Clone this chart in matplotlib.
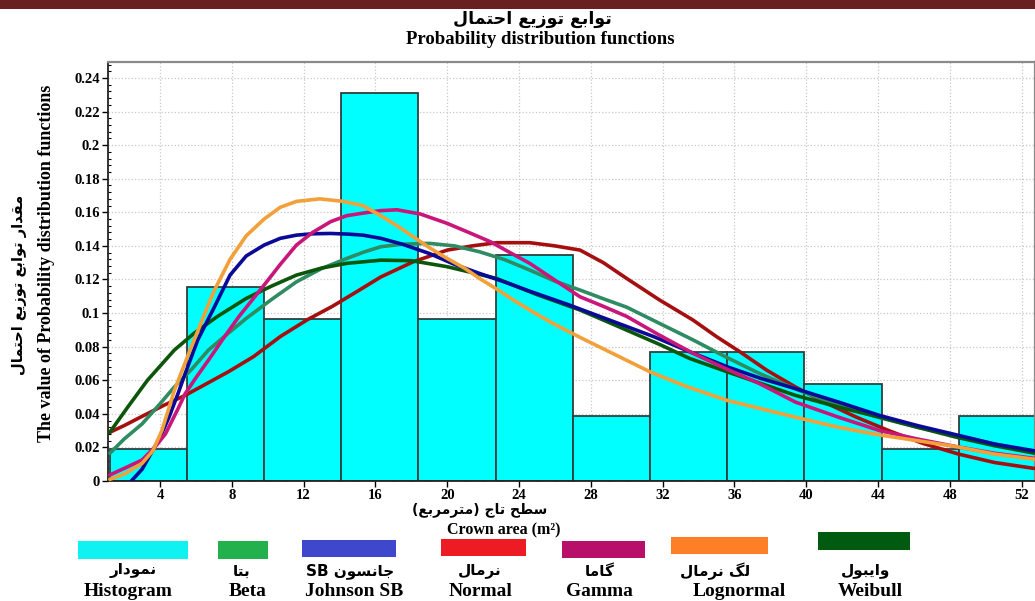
import numpy as np
import matplotlib
matplotlib.use('Agg')
import matplotlib.pyplot as plt
from matplotlib.patches import Rectangle
from matplotlib.ticker import MultipleLocator, FuncFormatter

# histogram (relative frequency per crown-area class)
bin_edges = [1.2, 5.5, 9.8, 14.1, 18.4, 22.7, 27.0, 31.3, 35.6, 39.9, 44.2, 48.5, 52.8]
hist_vals = [0.0192, 0.1154, 0.0962, 0.2308, 0.0962, 0.1346, 0.0385, 0.0769, 0.0769, 0.0577, 0.0192, 0.0385]

# fitted curves
beta_x = [1.2, 2.0, 3.0, 4.0, 4.8, 5.8, 6.7, 7.8, 8.8, 10.2, 11.6, 13.0, 14.4, 15.4, 16.3, 17.5, 19.0, 20.4,
          21.8, 23.2, 24.6, 26.0, 27.4, 28.7, 30.0, 31.8, 33.7, 35.5, 37.4, 39.6, 41.8, 44.0, 46.2, 48.4, 50.5, 52.7]
beta_y = [0.0165, 0.025, 0.034, 0.046, 0.056, 0.067, 0.078, 0.088, 0.0968, 0.108, 0.1186, 0.1265, 0.1325, 0.1365,
          0.1395, 0.141, 0.1415, 0.140, 0.1365, 0.1318, 0.1256, 0.119, 0.1137, 0.1085, 0.1035, 0.094, 0.084, 0.074,
          0.064, 0.054, 0.045, 0.038, 0.032, 0.027, 0.022, 0.017]

jsb_x = [2.4, 3.0, 3.5, 4.0, 4.5, 5.0, 5.4, 6.1, 7.0, 7.9, 8.8, 9.8, 10.7, 11.6, 12.5, 13.5, 14.5, 15.3, 16.3,
         17.5, 19.0, 20.4, 21.8, 23.2, 24.6, 26.8, 29.0, 31.5, 33.5, 35.6, 37.5, 39.4, 41.8, 44.1, 46.2, 48.4, 50.5, 52.7]
jsb_y = [0.0, 0.007, 0.0165, 0.026, 0.038, 0.052, 0.064, 0.084, 0.103, 0.1226, 0.134, 0.1405, 0.1445, 0.1464,
         0.1472, 0.1474, 0.147, 0.1464, 0.1445, 0.141, 0.1355, 0.129, 0.1236, 0.1185, 0.113, 0.1048, 0.096, 0.086,
         0.077, 0.068, 0.061, 0.055, 0.047, 0.039, 0.033, 0.0274, 0.022, 0.018]

normal_x = [1.2, 2.0, 3.0, 4.2, 5.4, 6.6, 7.8, 9.2, 10.7, 12.2, 13.6, 15.0, 16.3, 18.1, 20.0, 21.4, 22.75, 24.6,
            26.0, 27.4, 28.7, 30.0, 31.8, 33.7, 35.0, 36.3, 37.8, 39.4, 41.0, 42.8, 44.6, 46.5, 48.5, 50.5, 52.7]
normal_y = [0.029, 0.033, 0.0385, 0.045, 0.051, 0.058, 0.065, 0.074, 0.086, 0.096, 0.104, 0.113, 0.1215, 0.1305,
            0.1375, 0.140, 0.1419, 0.1419, 0.140, 0.1375, 0.130, 0.1206, 0.108, 0.0958, 0.086, 0.077, 0.066, 0.056,
            0.047, 0.038, 0.030, 0.0224, 0.016, 0.011, 0.0075]

gamma_x = [1.2, 2.0, 3.0, 3.7, 4.3, 5.0, 5.4, 6.0, 6.7, 7.6, 8.4, 9.0, 9.8, 10.7, 11.6, 12.5, 13.5, 14.4, 15.3,
           16.3, 17.2, 18.5, 20.0, 21.2, 22.4, 23.5, 24.6, 26.0, 27.4, 28.7, 30.0, 31.8, 33.7, 35.5, 37.4, 39.4,
           41.8, 44.1, 46.2, 48.4, 50.5, 52.7]
gamma_y = [0.0036, 0.0075, 0.0125, 0.020, 0.028, 0.043, 0.052, 0.0615, 0.072, 0.086, 0.098, 0.106, 0.1167, 0.129,
           0.1405, 0.148, 0.1544, 0.158, 0.1595, 0.161, 0.1615, 0.159, 0.1534, 0.148, 0.1425, 0.136, 0.1296, 0.1196,
           0.1097, 0.104, 0.098, 0.087, 0.076, 0.067, 0.058, 0.047, 0.038, 0.030, 0.025, 0.0204, 0.0165, 0.0135]

lognorm_x = [1.2, 2.0, 3.0, 3.6, 4.1, 4.8, 5.6, 6.5, 7.0, 7.9, 8.8, 9.8, 10.7, 11.6, 12.9, 14.2, 15.3, 16.3, 17.2,
             18.1, 19.0, 20.0, 21.0, 21.8, 22.8, 23.7, 24.8, 25.9, 27.5, 29.4, 31.3, 33.4, 35.6, 37.5, 39.4, 41.8,
             44.1, 46.2, 48.4, 50.5, 52.7]
lognorm_y = [0.001, 0.004, 0.0105, 0.018, 0.030, 0.054, 0.076, 0.100, 0.113, 0.132, 0.146, 0.156, 0.163, 0.1665,
             0.168, 0.1665, 0.164, 0.158, 0.152, 0.1455, 0.139, 0.1325, 0.1265, 0.1206, 0.114, 0.1077, 0.1005,
             0.0938, 0.085, 0.075, 0.065, 0.056, 0.048, 0.043, 0.038, 0.032, 0.0274, 0.024, 0.0204, 0.016, 0.013]

weibull_x = [1.2, 2.2, 3.3, 4.8, 5.9, 7.2, 8.8, 10.2, 11.6, 13.0, 14.4, 16.3, 18.0, 20.0, 22.75, 25.0, 27.4, 29.1,
             31.9, 33.5, 35.6, 37.5, 39.4, 41.8, 44.1, 46.2, 48.4, 50.5, 52.7]
weibull_y = [0.029, 0.044, 0.060, 0.078, 0.088, 0.098, 0.1087, 0.116, 0.1226, 0.1268, 0.1296, 0.1315, 0.1312,
             0.1276, 0.1206, 0.111, 0.1018, 0.094, 0.081, 0.073, 0.065, 0.058, 0.051, 0.044, 0.038, 0.032, 0.026,
             0.021, 0.0166]

x_ticks = [4, 8, 12, 16, 20, 24, 28, 32, 36, 40, 44, 48, 52]
y_ticks = [0, 0.02, 0.04, 0.06, 0.08, 0.1, 0.12, 0.14, 0.16, 0.18, 0.2, 0.22, 0.24]

legend_fa = ['نمودار', 'بتا', 'جانسون SB', 'نرمال', 'گاما', 'لگ نرمال', 'وایبول']
legend_en = ['Histogram', 'Beta', 'Johnson SB', 'Normal', 'Gamma', 'Lognormal', 'Weibull']

# colours
c_hist = '#00FFFF'
c_beta = '#2E8B62'
c_jsb = '#0A0A96'
c_normal = '#A50F0F'
c_gamma = '#C8167A'
c_lognorm = '#F2A03A'
c_weibull = '#0B560B'
legend_colours = ['#10F2F2', '#22B14C', '#3F48CC', '#ED1C24', '#B8106A', '#FF7F27', '#005A10']

# --- very small persian shaper (matplotlib has no bidi / arabic joining) ---
FORMS = {
    'ا': ('\uFE8D', '\uFE8E', None, None),
    'ب': ('\uFE8F', '\uFE90', '\uFE91', '\uFE92'),
    'ت': ('\uFE95', '\uFE96', '\uFE97', '\uFE98'),
    'ج': ('\uFE9D', '\uFE9E', '\uFE9F', '\uFEA0'),
    'ح': ('\uFEA1', '\uFEA2', '\uFEA3', '\uFEA4'),
    'د': ('\uFEA9', '\uFEAA', None, None),
    'ر': ('\uFEAD', '\uFEAE', None, None),
    'ز': ('\uFEAF', '\uFEB0', None, None),
    'س': ('\uFEB1', '\uFEB2', '\uFEB3', '\uFEB4'),
    'ط': ('\uFEC1', '\uFEC2', '\uFEC3', '\uFEC4'),
    'ع': ('\uFEC9', '\uFECA', '\uFECB', '\uFECC'),
    'ق': ('\uFED5', '\uFED6', '\uFED7', '\uFED8'),
    'ل': ('\uFEDD', '\uFEDE', '\uFEDF', '\uFEE0'),
    'م': ('\uFEE1', '\uFEE2', '\uFEE3', '\uFEE4'),
    'ن': ('\uFEE5', '\uFEE6', '\uFEE7', '\uFEE8'),
    'و': ('\uFEED', '\uFEEE', None, None),
    'ی': ('\uFBFC', '\uFBFD', '\uFEF3', '\uFEF4'),
    'گ': ('\uFB92', '\uFB93', '\uFB94', '\uFB95'),
}
DUAL = set('بتجحسطعقلمنیگ')


def shape_word(w):
    out = []
    for i, ch in enumerate(w):
        if ch not in FORMS:
            out.append(ch)
            continue
        prev_join = i > 0 and w[i - 1] in DUAL
        next_join = ch in DUAL and i < len(w) - 1 and w[i + 1] in FORMS
        iso, fin, ini, med = FORMS[ch]
        if prev_join and next_join:
            out.append(med)
        elif prev_join:
            out.append(fin)
        elif next_join:
            out.append(ini)
        else:
            out.append(iso)
    return ''.join(out)


def fa(text):
    vis = []
    for w in text.split(' '):
        if any(c in FORMS for c in w):
            s = shape_word(w)[::-1]
            s = s.translate(str.maketrans('()', ')('))
            vis.append(s)
        else:
            vis.append(w)
    return ' '.join(vis[::-1])


serif = 'Liberation Serif'
fa_font = ['DejaVu Sans']

fig = plt.figure(figsize=(10.35, 6.01), dpi=100)
W, H = 1035.0, 601.0
ax = fig.add_axes([108 / W, 1 - 481 / H, (1035 - 108) / W, (481 - 62) / H])

# histogram
widths = np.diff(bin_edges)
ax.bar(bin_edges[:-1], hist_vals, width=widths, align='edge', color=c_hist,
       edgecolor='#2F3F3F', linewidth=1.3, zorder=2)

# fitted distributions
lw = 2.6
ax.plot(normal_x, normal_y, color=c_normal, lw=lw, zorder=3, solid_capstyle='round', solid_joinstyle='round')
ax.plot(beta_x, beta_y, color=c_beta, lw=lw, zorder=3, solid_capstyle='round', solid_joinstyle='round')
ax.plot(weibull_x, weibull_y, color=c_weibull, lw=lw, zorder=3, solid_capstyle='round', solid_joinstyle='round')
ax.plot(jsb_x, jsb_y, color=c_jsb, lw=lw, zorder=3, solid_capstyle='round', solid_joinstyle='round')
ax.plot(gamma_x, gamma_y, color=c_gamma, lw=lw, zorder=3, solid_capstyle='round', solid_joinstyle='round')
ax.plot(lognorm_x, lognorm_y, color=c_lognorm, lw=lw, zorder=3, solid_capstyle='round', solid_joinstyle='round')

ax.set_xlim(1.1, 52.75)
ax.set_ylim(0, 0.2495)
ax.set_xticks(x_ticks)
ax.set_yticks(y_ticks)
ax.xaxis.set_minor_locator(MultipleLocator(1))
ax.yaxis.set_minor_locator(MultipleLocator(0.004))
ax.yaxis.set_major_formatter(FuncFormatter(lambda v, p: '%g' % v))
ax.grid(True, which='major', linestyle=':', color='#C8C8C8', linewidth=0.9, zorder=0)
ax.set_axisbelow(True)
ax.tick_params(which='major', direction='out', length=4, width=1, labelsize=10.5, pad=2)
ax.tick_params(which='minor', direction='in', length=2.5, width=0.8)
for lab in ax.get_xticklabels() + ax.get_yticklabels():
    lab.set_fontfamily(serif)
    lab.set_fontweight('bold')
for s in ['top', 'right']:
    ax.spines[s].set_color('#8A8A8A')
    ax.spines[s].set_linewidth(1.6)
for s in ['left', 'bottom']:
    ax.spines[s].set_color('#222222')
    ax.spines[s].set_linewidth(1.3)

# top banner
fig.add_artist(Rectangle((0, 1 - 9 / H), 1, 9 / H, transform=fig.transFigure,
                         facecolor='#6A2020', edgecolor='none'))

# titles and axis labels
fig.text(532 / W, 1 - 19 / H, fa('توابع توزیع احتمال'), family=fa_font, weight='bold',
         fontsize=12.5, ha='center', va='center')
fig.text(540 / W, 1 - 40 / H, 'Probability distribution functions', family=serif,
         weight='bold', fontsize=13.5, ha='center', va='center')
fig.text(47 / W, 1 - 263 / H, 'The value of Probability distribution functions', family=serif,
         weight='bold', fontsize=13, ha='center', va='center', rotation=90)
fig.text(20 / W, 1 - 285 / H, fa('مقدار توابع توزیع احتمال'), family=fa_font, weight='bold',
         fontsize=10.5, ha='center', va='center', rotation=90)
fig.text(480 / W, 1 - 510 / H, fa('سطح تاج (مترمربع)'), family=fa_font, weight='bold',
         fontsize=10, ha='center', va='center')
fig.text(504 / W, 1 - 530 / H, 'Crown area (m\u00b2)', family=serif,
         weight='bold', fontsize=11.5, ha='center', va='center')

# legend drawn by hand below the chart
boxes = [(78, 188, 541, 559), (218, 268, 541, 559), (302, 396, 540, 557), (441, 526, 539, 556),
         (562, 645, 541, 558), (671, 768, 537, 554), (818, 910, 532, 550)]
fa_cx = [133, 242, 350, 480, 600, 715, 866]
en_cx = [128, 248, 354, 481, 599, 739, 870]
for i in range(len(legend_en)):
    x0, x1, y0, y1 = boxes[i]
    fig.add_artist(Rectangle((x0 / W, 1 - y1 / H), (x1 - x0) / W, (y1 - y0) / H,
                             transform=fig.transFigure, facecolor=legend_colours[i], edgecolor='none'))
    fig.text(fa_cx[i] / W, 1 - 571 / H, fa(legend_fa[i]), family=fa_font, weight='bold',
             fontsize=11, ha='center', va='center')
    fig.text(en_cx[i] / W, 1 - 591 / H, legend_en[i], family=serif, weight='bold',
             fontsize=14, ha='center', va='center')

fig.savefig('out.png', dpi=100)
plt.close()
